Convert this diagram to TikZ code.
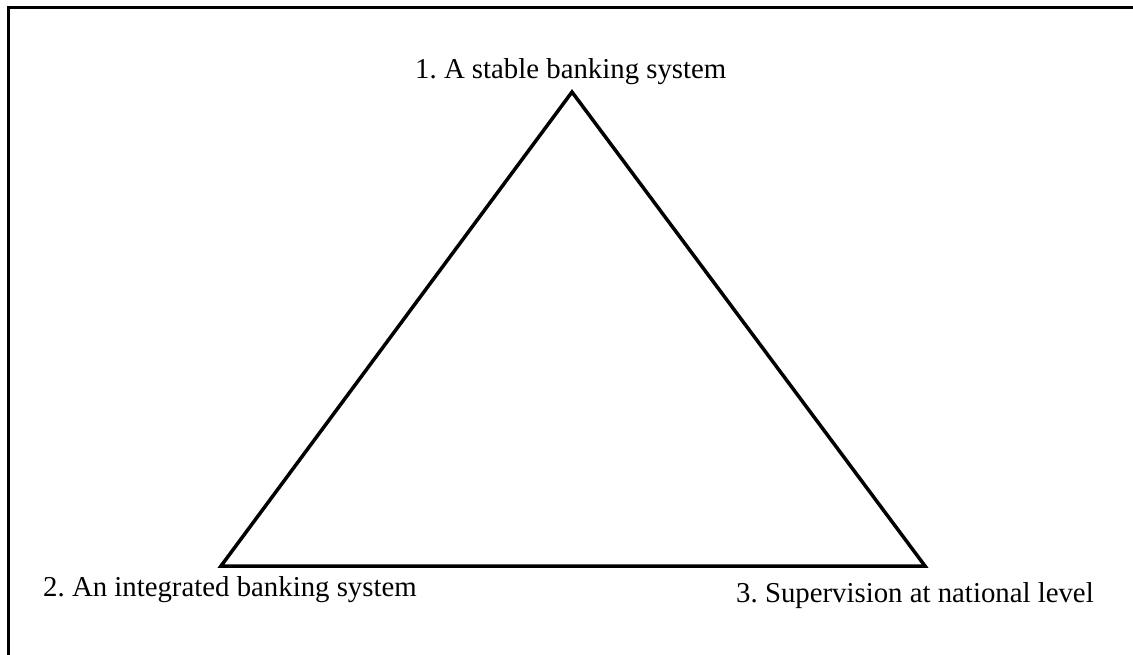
\documentclass[tikz,border=0pt]{standalone}
\usepackage{fontspec}
\setmainfont{Liberation Serif}
\frenchspacing
\begin{document}
\begin{tikzpicture}[x=1pt,y=-1pt,
  lbl/.style={anchor=base west, inner sep=0pt, font=\fontsize{28.8}{34}\selectfont},
  edge/.style={line width=3.5pt, line join=miter}]
\useasboundingbox (0,0) rectangle (1133,655);
\draw[line width=3pt] (8,656) -- (8,8) -- (1134,8);
\coordinate (A) at (572,92);
\coordinate (B) at (221,566);
\coordinate (C) at (925,566);
\draw[edge] (A) -- (B) -- (C) -- cycle;
\node[lbl] (t1) at (415,79) {1. A stable banking system};
\node[lbl] (t2) at (43,596) {2. An integrated banking system};
\node[lbl] (t3) at (736,602) {3. Supervision at national level};
\end{tikzpicture}
\end{document}
